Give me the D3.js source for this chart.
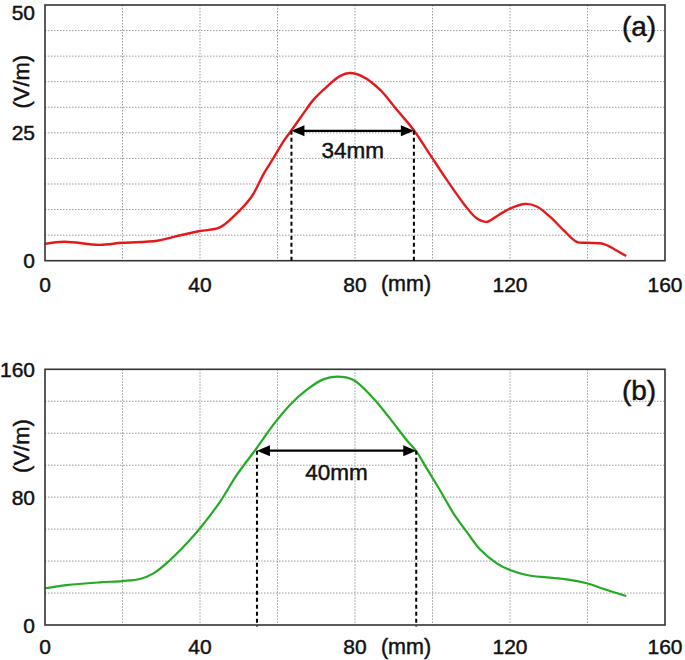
<!DOCTYPE html>
<html>
<head>
<meta charset="utf-8">
<script src="https://cdn.jsdelivr.net/npm/d3@7"></script>
<style>
  html, body { margin: 0; padding: 0; background: #fff; }
  svg { display: block; font-family: "Liberation Sans", Arial, sans-serif; }
  text { stroke: #111; stroke-width: 0.45px; paint-order: stroke; }
</style>
</head>
<body>
<svg id="chart" width="685" height="660"></svg>
<script>
// ---------------- data ----------------
const xTickValues = [0, 40, 80, 120, 160];
const xUnitLabel = "(mm)";
const yUnitLabel = "(V/m)";

// panel (a)
const aX = [0, 5, 14, 20, 29, 34, 40, 45, 48.6, 53.3, 56.3, 58.9, 61.5, 63.7, 66.7, 69.2, 72.7, 76.1, 78.7, 82, 86.5, 90.8, 95.1, 99.4, 103.7, 108, 111.4, 114, 117, 120, 123.9, 126.9, 130.3, 133.8, 137.2, 139.8, 144.1, 147.5, 150];
const aY = [3.3, 3.7, 3.1, 3.5, 3.9, 4.8, 5.8, 6.45, 8.6, 12.5, 16.8, 20.0, 23.3, 25.6, 28.8, 31.4, 34.0, 36.1, 36.7, 36.0, 33.4, 29.5, 25.6, 20.7, 15.8, 11.2, 8.3, 7.6, 8.9, 10.2, 11.1, 10.6, 8.6, 6.0, 3.7, 3.5, 3.3, 2.0, 0.9];
const aYTicks = [0, 25, 50];
const aWidth = { x1: 63.6, x2: 95.2, level: 25.4, label: "34mm" };
const aTag = "(a)";

// panel (b)
const bX = [0, 5.6, 14.2, 20, 24.5, 28, 32.3, 36.6, 40, 45.2, 49.5, 54.6, 58.9, 63.2, 67.5, 71.8, 75.3, 79.6, 84.7, 89, 93.3, 95.9, 98.5, 101.9, 105.4, 108.8, 112.3, 116.6, 120, 124.3, 129.5, 134.6, 139.8, 145, 150];
const bY = [23, 25, 26.7, 27.5, 28.8, 32.3, 40.7, 51.1, 60.5, 77.2, 93.9, 110.6, 125.2, 137.7, 147.1, 153.7, 155.4, 153.3, 141.9, 129.3, 115.8, 108.5, 98, 84.5, 69.9, 58.4, 47.2, 38.6, 34.4, 31.3, 29.8, 28.6, 26.1, 21.9, 18.1];
const bYTicks = [0, 80, 160];
const bWidth = { x1: 54.7, x2: 95.8, level: 109.1, label: "40mm" };
const bTag = "(b)";

// ---------------- layout ----------------
const svg = d3.select("#chart");
const left = 45, right = 665;

const panels = [
  { xs: aX, ys: aY, yMax: 50, yStep: 5, yTicks: aYTicks, width: aWidth, tag: aTag,
    top: 5, bottom: 260.7, color: "#e3191c", lw: 2.4, labOff: 19.5, xLabOff: 23.5 },
  { xs: bX, ys: bY, yMax: 160, yStep: 20, yTicks: bYTicks, width: bWidth, tag: bTag,
    top: 369.3, bottom: 625, color: "#25aa25", lw: 2.2, labOff: 22, xLabOff: 21.5 }
];

panels.forEach(p => {
  const x = d3.scaleLinear().domain([0, 160]).range([left, right]);
  const y = d3.scaleLinear().domain([0, p.yMax]).range([p.bottom, p.top]);
  const g = svg.append("g");

  // grid
  const xGrid = d3.range(20, 160, 20);
  const yGrid = d3.range(p.yStep, p.yMax, p.yStep);
  g.append("g").selectAll("line").data(xGrid).join("line")
    .attr("x1", d => x(d)).attr("x2", d => x(d))
    .attr("y1", p.top).attr("y2", p.bottom)
    .attr("stroke", "#9a9a9a").attr("stroke-width", 1)
    .attr("stroke-dasharray", "1.5,1.5");
  g.append("g").selectAll("line").data(yGrid).join("line")
    .attr("x1", left).attr("x2", right)
    .attr("y1", d => y(d)).attr("y2", d => y(d))
    .attr("stroke", "#9a9a9a").attr("stroke-width", 1)
    .attr("stroke-dasharray", "1.5,1.5");

  // curve
  const pts = p.xs.map((v, i) => [v, p.ys[i]]);
  g.append("path").datum(pts)
    .attr("fill", "none").attr("stroke", p.color).attr("stroke-width", p.lw)
    .attr("stroke-linejoin", "round")
    .attr("d", d3.line().x(d => x(d[0])).y(d => y(d[1])).curve(d3.curveCatmullRom.alpha(0.5)));

  // frame
  g.append("rect").attr("x", left).attr("y", p.top)
    .attr("width", right - left).attr("height", p.bottom - p.top)
    .attr("fill", "none").attr("stroke", "#333").attr("stroke-width", 1.6);

  // width annotation
  const w = p.width;
  const ay = y(w.level);
  [w.x1, w.x2].forEach(v => {
    g.append("line")
      .attr("x1", x(v)).attr("x2", x(v))
      .attr("y1", ay).attr("y2", p.bottom + 1.5)
      .attr("stroke", "#000").attr("stroke-width", 2)
      .attr("stroke-dasharray", "4,3");
  });
  const hl = 13, hw = 5.5;
  g.append("line")
    .attr("x1", x(w.x1) + hl - 1).attr("x2", x(w.x2) - hl + 1)
    .attr("y1", ay).attr("y2", ay)
    .attr("stroke", "#000").attr("stroke-width", 2.2);
  g.append("path")
    .attr("d", `M${x(w.x1)},${ay}L${x(w.x1) + hl},${ay - hw}L${x(w.x1) + hl},${ay + hw}Z`)
    .attr("fill", "#000");
  g.append("path")
    .attr("d", `M${x(w.x2)},${ay}L${x(w.x2) - hl},${ay - hw}L${x(w.x2) - hl},${ay + hw}Z`)
    .attr("fill", "#000");
  g.append("text")
    .attr("x", (x(w.x1) + x(w.x2)) / 2).attr("y", ay + p.labOff)
    .attr("text-anchor", "middle").attr("dominant-baseline", "central")
    .attr("font-size", 22.5).attr("fill", "#111").text(w.label);

  // y tick labels
  g.append("g").selectAll("text").data(p.yTicks).join("text")
    .attr("x", 35)
    .attr("y", d => d === p.yMax ? Math.max(y(d), 12.5) : y(d))
    .attr("text-anchor", "end").attr("dominant-baseline", "central")
    .attr("font-size", 21).attr("fill", "#111").text(d => d);

  // x tick labels
  g.append("g").selectAll("text").data(xTickValues).join("text")
    .attr("x", d => x(d)).attr("y", p.bottom + p.xLabOff)
    .attr("text-anchor", "middle").attr("dominant-baseline", "central")
    .attr("font-size", 21).attr("fill", "#111").text(d => d);
  g.append("text")
    .attr("x", x(80) + 51).attr("y", p.bottom + p.xLabOff)
    .attr("text-anchor", "middle").attr("dominant-baseline", "central")
    .attr("font-size", 21.5).attr("fill", "#111").text(xUnitLabel);

  // y unit label
  const cy = p.top + (p.bottom - p.top) * 0.3;
  g.append("text")
    .attr("transform", `translate(21.5,${cy}) rotate(-90)`)
    .attr("text-anchor", "middle").attr("dominant-baseline", "central")
    .attr("font-size", 22).attr("fill", "#111").text(yUnitLabel);

  // panel tag
  g.append("text")
    .attr("x", 639).attr("y", p.top + 21)
    .attr("text-anchor", "middle").attr("dominant-baseline", "central")
    .attr("font-size", 28).attr("fill", "#111").text(p.tag);
});
</script>
</body>
</html>
